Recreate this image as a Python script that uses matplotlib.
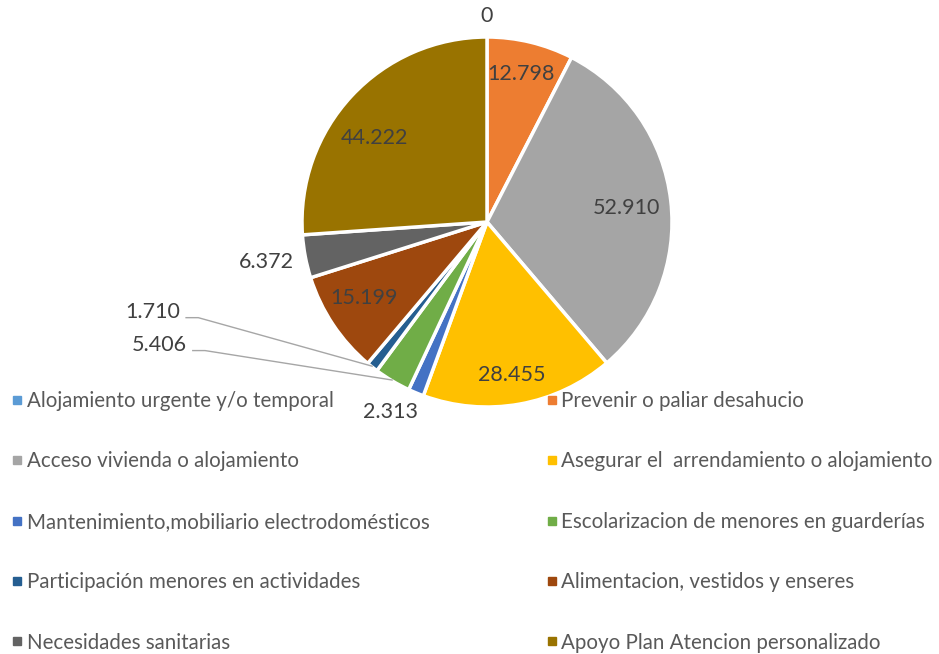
import matplotlib
matplotlib.use("Agg")
import matplotlib.pyplot as plt
import numpy as np
from matplotlib.lines import Line2D

plt.rcParams['font.family'] = ['Lato', 'DejaVu Sans']

categories = [
    "Alojamiento urgente y/o temporal",
    "Prevenir o paliar desahucio",
    "Acceso vivienda o alojamiento",
    "Asegurar el  arrendamiento o alojamiento",
    "Mantenimiento,mobiliario electrodomésticos",
    "Escolarizacion de menores en guarderías",
    "Participación menores en actividades",
    "Alimentacion, vestidos y enseres",
    "Necesidades sanitarias",
    "Apoyo Plan Atencion personalizado",
]
values = [0, 12.798, 52.910, 28.455, 2.313, 5.406, 1.710, 15.199, 6.372, 44.222]
value_labels = ["0", "12.798", "52.910", "28.455", "2.313", "5.406", "1.710",
                "15.199", "6.372", "44.222"]
colors = ["#5B9BD5", "#ED7D31", "#A5A5A5", "#FFC000", "#4472C4", "#70AD47",
          "#255E91", "#9E480E", "#636363", "#997300"]

# label placement: (angle clockwise from top in degrees, radius fraction)
label_angle = [0, 12.9, 84.3, 170.8, 207.0, 249.4, 254.9, 238.3, 259.7, 306.6]
label_radius = [1.114, 0.82, 0.76, 0.84, 1.15, 1.89, 1.87, 0.78, 1.21, 0.76]
leader = [False, False, False, False, False, True, True, False, False, False]

W, H = 939, 654
fig = plt.figure(figsize=(W / 100, H / 100), dpi=100)
cx, cy, R = 487, 222, 185
ax = fig.add_axes([(cx - R) / W, 1 - (cy + R) / H, 2 * R / W, 2 * R / H])
wedges, _ = ax.pie(values, colors=colors, startangle=90, counterclock=False,
                   radius=1, wedgeprops=dict(edgecolor="white", linewidth=2.5))
ax.set_xlim(-1, 1)
ax.set_ylim(-1, 1)
ax.set_aspect("equal")
ax.axis("off")

txt_color = "#404040"
for i, w in enumerate(wedges):
    a = np.deg2rad(label_angle[i])
    r = label_radius[i]
    tx, ty = r * np.sin(a), r * np.cos(a)
    ax.text(tx, ty, value_labels[i], ha="center", va="center", fontsize=15.5,
            color=txt_color, clip_on=False)
    if leader[i]:
        mid = np.deg2rad((w.theta1 + w.theta2) / 2)
        ex, ey = np.cos(mid) * 0.995, np.sin(mid) * 0.995
        x0 = tx + 0.175
        y0 = ty - 0.03
        ax.plot([x0, x0 + 0.07, ex], [y0, y0, ey], color="#A6A6A6", lw=1,
                clip_on=False, solid_capstyle="butt")

def handle(c):
    return Line2D([], [], marker="s", linestyle="none", markersize=5.8,
                  markerfacecolor=c, markeredgecolor=c)

legend_kw = dict(frameon=False, fontsize=14.8, labelcolor="#595959",
                 handlelength=0.39, handletextpad=0.285, borderpad=0,
                 borderaxespad=0, labelspacing=1.965, loc="upper left")
left_idx = [0, 2, 4, 6, 8]
right_idx = [1, 3, 5, 7, 9]
fig.legend([handle(colors[i]) for i in left_idx], [categories[i] for i in left_idx],
           bbox_to_anchor=(12.8 / W, 1 - 391 / H), **legend_kw)
fig.legend([handle(colors[i]) for i in right_idx], [categories[i] for i in right_idx],
           bbox_to_anchor=(547.5 / W, 1 - 391 / H), **legend_kw)

fig.savefig("out.png", dpi=100)
